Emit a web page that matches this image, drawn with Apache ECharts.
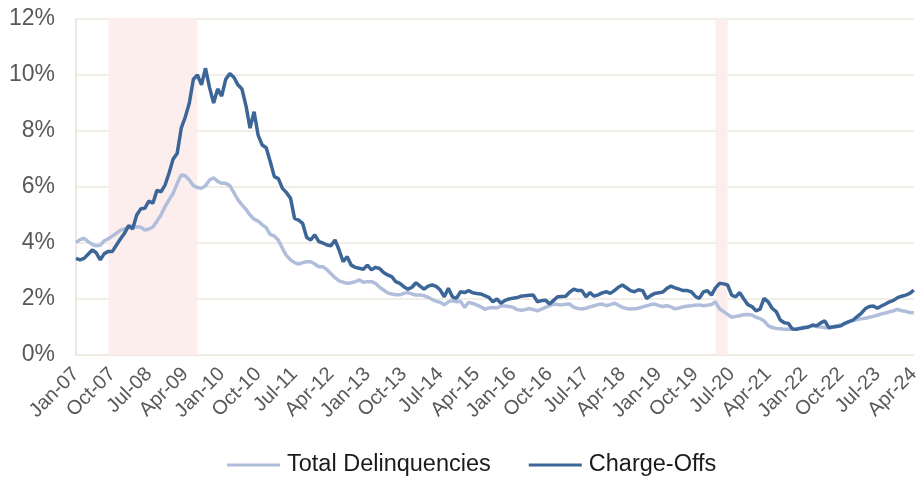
<!DOCTYPE html>
<html>
<head>
<meta charset="utf-8">
<script src="https://cdn.jsdelivr.net/npm/echarts@6/dist/echarts.min.js"></script>
<style>
  html, body { margin: 0; padding: 0; background: #ffffff; }
  #chart { width: 923px; height: 485px; }
</style>
</head>
<body>
<div id="chart"></div>
<script>
// Monthly categories Jan-07 .. Apr-24
const monthNames = ['Jan', 'Feb', 'Mar', 'Apr', 'May', 'Jun', 'Jul', 'Aug', 'Sep', 'Oct', 'Nov', 'Dec']
const months = []
for (let y = 7; y <= 24; y++) {
  for (let m = 0; m < 12; m++) {
    if (y === 24 && m > 3) break
    months.push(monthNames[m] + '-' + String(y).padStart(2, '0'))
  }
}

// Total delinquency rate (%)
const delinquencies = [
  4.02, 4.12, 4.17, 4.05, 3.95, 3.90, 3.92, 4.08, 4.15, 4.25, 4.35, 4.46,
  4.50, 4.55, 4.62, 4.57, 4.57, 4.46, 4.50, 4.57, 4.78, 5.00, 5.30, 5.55,
  5.77, 6.13, 6.43, 6.40, 6.25, 6.05, 5.98, 5.95, 6.05, 6.25, 6.33, 6.20,
  6.13, 6.13, 6.05, 5.80, 5.55, 5.36, 5.20, 5.00, 4.85, 4.78, 4.65, 4.55,
  4.30, 4.25, 4.10, 3.81, 3.55, 3.40, 3.30, 3.25, 3.30, 3.33, 3.33, 3.25,
  3.15, 3.15, 3.05, 2.90, 2.76, 2.65, 2.60, 2.56, 2.58, 2.62, 2.68, 2.60,
  2.62, 2.62, 2.56, 2.42, 2.32, 2.22, 2.18, 2.15, 2.15, 2.20, 2.23, 2.18,
  2.14, 2.14, 2.12, 2.06, 1.98, 1.92, 1.88, 1.79, 1.90, 1.94, 1.90, 1.92,
  1.70, 1.88, 1.84, 1.79, 1.72, 1.63, 1.68, 1.70, 1.68, 1.75, 1.75, 1.73,
  1.70, 1.62, 1.60, 1.62, 1.66, 1.62, 1.58, 1.64, 1.70, 1.76, 1.82, 1.80,
  1.79, 1.81, 1.82, 1.70, 1.66, 1.64, 1.67, 1.72, 1.76, 1.80, 1.82, 1.76,
  1.80, 1.85, 1.78, 1.70, 1.66, 1.64, 1.65, 1.67, 1.72, 1.76, 1.80, 1.82,
  1.76, 1.73, 1.76, 1.72, 1.65, 1.68, 1.72, 1.74, 1.76, 1.78, 1.79, 1.76,
  1.78, 1.80, 1.90, 1.65, 1.55, 1.45, 1.35, 1.38, 1.40, 1.44, 1.45, 1.43,
  1.35, 1.30, 1.22, 1.05, 0.98, 0.95, 0.94, 0.92, 0.92, 0.92, 0.93, 0.97,
  1.00, 1.02, 1.04, 1.02, 1.00, 0.98, 0.96, 1.00, 1.05, 1.08, 1.14, 1.19,
  1.23, 1.27, 1.29, 1.31, 1.35, 1.38, 1.42, 1.47, 1.50, 1.54, 1.58, 1.63,
  1.58, 1.56, 1.52, 1.51,
]

// Charge-off rate (%)
const chargeOffs = [
  3.45, 3.40, 3.45, 3.60, 3.75, 3.65, 3.40, 3.62, 3.70, 3.70, 3.93, 4.15,
  4.35, 4.62, 4.50, 5.00, 5.22, 5.24, 5.50, 5.42, 5.88, 5.83, 6.07, 6.50,
  7.00, 7.20, 8.10, 8.50, 9.00, 9.85, 10.00, 9.65, 10.24, 9.55, 9.00, 9.50,
  9.25, 9.85, 10.05, 9.92, 9.65, 9.50, 8.90, 8.10, 8.69, 7.85, 7.50, 7.40,
  6.90, 6.37, 6.30, 5.95, 5.80, 5.60, 4.88, 4.82, 4.70, 4.20, 4.11, 4.29,
  4.05, 4.00, 3.93, 3.90, 4.11, 3.75, 3.33, 3.51, 3.21, 3.13, 3.10, 3.06,
  3.21, 3.04, 3.13, 3.09, 2.95, 2.86, 2.80, 2.62, 2.56, 2.44, 2.35, 2.42,
  2.58, 2.46, 2.35, 2.46, 2.50, 2.45, 2.32, 2.08, 2.38, 2.08, 2.02, 2.26,
  2.23, 2.30, 2.22, 2.20, 2.18, 2.12, 2.06, 1.90, 2.00, 1.85, 1.95, 2.00,
  2.03, 2.05, 2.10, 2.12, 2.13, 2.14, 1.90, 1.94, 1.96, 1.82, 1.95, 2.08,
  2.09, 2.10, 2.25, 2.35, 2.30, 2.30, 2.08, 2.23, 2.10, 2.15, 2.22, 2.26,
  2.20, 2.30, 2.42, 2.50, 2.40, 2.30, 2.26, 2.33, 2.30, 2.02, 2.12, 2.20,
  2.22, 2.25, 2.38, 2.46, 2.40, 2.35, 2.30, 2.30, 2.26, 2.10, 2.02, 2.25,
  2.30, 2.14, 2.40, 2.56, 2.54, 2.50, 2.14, 2.08, 2.23, 2.00, 1.80, 1.73,
  1.58, 1.64, 2.02, 1.90, 1.67, 1.55, 1.25, 1.15, 1.13, 0.93, 0.92, 0.95,
  0.97, 1.00, 1.07, 1.04, 1.15, 1.22, 0.98, 1.00, 1.02, 1.04, 1.13, 1.19,
  1.25, 1.37, 1.49, 1.65, 1.73, 1.75, 1.67, 1.75, 1.82, 1.90, 1.95, 2.05,
  2.10, 2.14, 2.20, 2.32,
]

// Recession shading (start, end month)
const recessions = [
  ['Sep-07', 'Jul-09'],
  ['Mar-20', 'Jun-20'],
]

const yTicks = { min: 0, max: 12, interval: 2 }

const font = "'Liberation Sans', Arial, sans-serif"
const textColor = '#595959'
const gridColor = '#ede9df'

const chart = echarts.init(document.getElementById('chart'), null, { renderer: 'canvas' })

chart.setOption({
  animation: false,
  backgroundColor: '#ffffff',
  grid: { left: 76, right: 6, top: 19, bottom: 130 },
  legend: {
    bottom: 3,
    left: 222,
    icon: 'rect',
    itemWidth: 53,
    itemHeight: 3,
    itemGap: 38,
    textStyle: { color: '#1a1a1a', fontSize: 23.5, fontFamily: font, padding: [0, 0, 0, 2] },
    data: ['Total Delinquencies', 'Charge-Offs'],
  },
  xAxis: {
    type: 'category',
    data: months,
    boundaryGap: false,
    axisLine: { show: true, lineStyle: { color: gridColor, width: 1 } },
    axisTick: { show: false },
    axisLabel: {
      interval: 8,
      rotate: 45,
      color: textColor,
      fontSize: 20,
      fontFamily: font,
      margin: 16,
    },
    splitLine: { show: false },
  },
  yAxis: {
    type: 'value',
    min: yTicks.min,
    max: yTicks.max,
    interval: yTicks.interval,
    axisLine: { show: true, lineStyle: { color: gridColor, width: 2 } },
    axisTick: { show: false },
    axisLabel: {
      formatter: '{value}%',
      color: textColor,
      fontSize: 23,
      fontFamily: font,
      margin: 21,
    },
    splitLine: { lineStyle: { color: gridColor, width: 1.5 } },
  },
  series: [
    {
      name: 'Total Delinquencies',
      type: 'line',
      data: delinquencies,
      symbol: 'none',
      lineStyle: { width: 3.5, color: '#b1bedb' },
      itemStyle: { color: '#b1bedb' },
      markArea: {
        silent: true,
        itemStyle: { color: '#fdeeee' },
        data: recessions.map(([a, b]) => [{ xAxis: a }, { xAxis: b }]),
      },
    },
    {
      name: 'Charge-Offs',
      type: 'line',
      data: chargeOffs,
      symbol: 'none',
      lineStyle: { width: 3.5, color: '#3d6698' },
      itemStyle: { color: '#3d6698' },
    },
  ],
})
</script>
</body>
</html>
